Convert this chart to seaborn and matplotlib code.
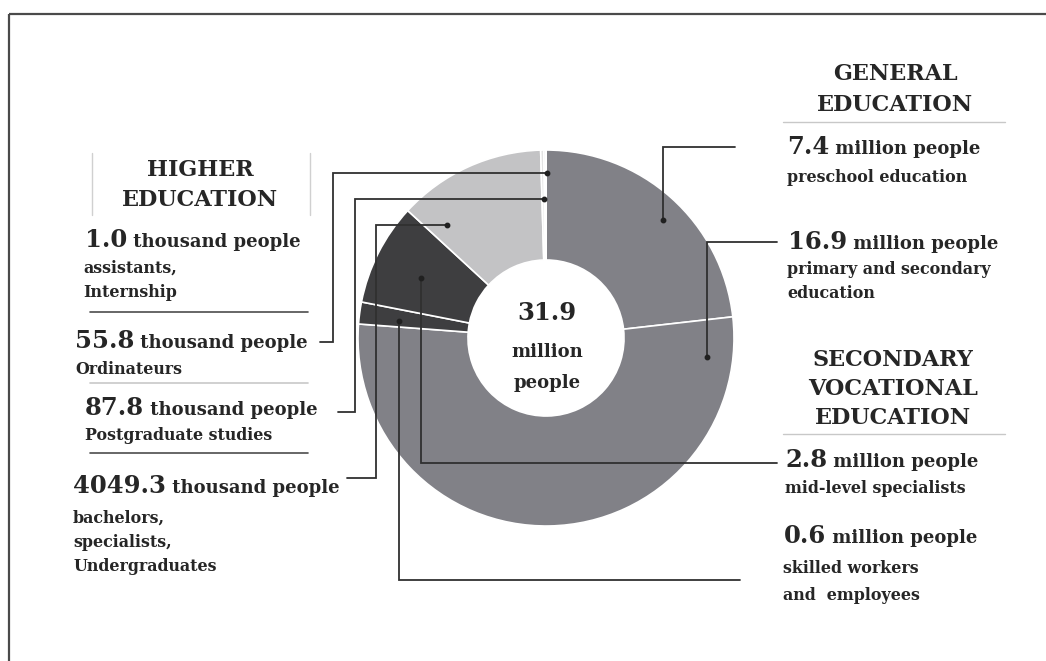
import matplotlib
matplotlib.use("Agg")
import matplotlib.pyplot as plt
import seaborn as sns

# --- data -------------------------------------------------------------
categories = ["preschool education", "primary and secondary\neducation",
              "skilled workers\nand  employees", "mid-level specialists",
              "bachelors,\nspecialists,\nUndergraduates", "Postgraduate studies",
              "Ordinateurs", "assistants,\nInternship"]
people_millions = [7.4, 16.9, 0.6, 2.8, 4.0493, 0.0878, 0.0558, 0.0010]
value_labels = ["7.4", "16.9", "0.6", "2.8", "4049.3", "87.8", "55.8", "1.0"]
unit_labels = ["million people"] * 4 + ["thousand people"] * 4
group_titles = ["GENERAL\nEDUCATION", "SECONDARY\nVOCATIONAL\nEDUCATION", "HIGHER\nEDUCATION"]
total_value = "31.9"
total_unit = "million\npeople"

# --- style ------------------------------------------------------------
sns.set_theme(style="white")
plt.rcParams['font.family'] = ['DejaVu Serif', 'DejaVu Sans']
txt_color = "#262626"
mid, dark, light, vlight = "#818187", "#3e3e40", "#c3c3c5", "#e2e2e2"
slice_colors = sns.color_palette([mid, mid, dark, dark, light, vlight, vlight, vlight])

W, H = 1046, 661
fig = plt.figure(figsize=(W / 100, H / 100), dpi=100)
fig.patch.set_facecolor("white")

# donut: centre (546, 338) px, radius 188 px -> square axes of 470 px
cx, cy, R = 546, 338, 188
side = 2 * 1.25 * R
ax_pie = fig.add_axes([(cx - side / 2) / W, (H - cy - side / 2) / H, side / W, side / H])
ax_pie.pie(people_millions, colors=slice_colors, startangle=90, counterclock=False,
           wedgeprops=dict(width=0.585, edgecolor="white", linewidth=1.2))

# overlay in pixel coordinates
ax = fig.add_axes([0, 0, 1, 1])
ax.set_xlim(0, W)
ax.set_ylim(H, 0)
ax.axis("off")
ax.patch.set_alpha(0)


def stacked(x, y, text, step, **kw):
    # one text per line, first baseline at y
    for k, line in enumerate(text.split("\n")):
        ax.text(x, y + k * step, line, va="baseline", color=txt_color,
                fontweight="bold", **kw)


# frame (only top and left visible)
ax.plot([9, W], [14, 14], color="#4a4a4a", lw=1.6, solid_capstyle="butt")
ax.plot([9, 9], [14, H], color="#4a4a4a", lw=1.6, solid_capstyle="butt")

# leader lines
leaders = [
    [(663, 220), (663, 147), (735, 147)],
    [(707, 357), (707, 242), (777, 242)],
    [(399, 321), (399, 580), (740, 580)],
    [(421, 278), (421, 463), (777, 463)],
    [(447, 225), (376, 225), (376, 478), (347, 478)],
    [(544, 199), (355, 199), (355, 412), (338, 412)],
    [(547, 173), (333, 173), (333, 342), (320, 342)],
]
for path in leaders:
    xs, ys = zip(*path)
    ax.plot(xs, ys, color="#303030", lw=1.3, solid_joinstyle="miter")
    ax.plot(xs[0], ys[0], "o", color="#202020", ms=3.2)

# separator lines
for y, c in [(312, "#4d4d4d"), (383, "#c8c8c8"), (453, "#4d4d4d")]:
    ax.plot([90, 308], [y, y], color=c, lw=1.2)
for x in [92, 310]:
    ax.plot([x, x], [153, 215], color="#d0d0d0", lw=1)
for y in [122, 434]:
    ax.plot([783, 1005], [y, y], color="#c8c8c8", lw=1)

# group titles (first baseline, line step)
title_pos = [(895, 80, 31), (893, 366, 29), (200, 176, 30)]
for t, (x, y, step) in zip(group_titles, title_pos):
    stacked(x, y, t, step, ha="center", fontsize=16)

# value lines and descriptions
value_pos = [(787, 154), (788, 249), (784, 543), (785, 467),
             (73, 493), (85, 415), (75, 348), (85, 247)]
desc_pos = [(787, 182, 24), (787, 274, 24), (783, 573, 27), (785, 493, 24),
            (73, 523, 24), (85, 440, 24), (75, 374, 24), (83, 273, 24)]
for i in range(len(categories)):
    x, y = value_pos[i]
    t = ax.text(x, y, value_labels[i], ha="left", va="baseline", fontsize=17.5,
                fontweight="bold", color=txt_color)
    ax.annotate(" " + unit_labels[i], xy=(1, y), xycoords=(t, "data"),
                ha="left", va="baseline", fontsize=13, fontweight="bold", color=txt_color)
    dx, dy, step = desc_pos[i]
    stacked(dx, dy, categories[i], step, ha="left", fontsize=11.4)

# centre text
ax.text(547, 320, total_value, ha="center", va="baseline", fontsize=17.5,
        fontweight="bold", color=txt_color)
stacked(547, 357, total_unit, 31, ha="center", fontsize=13)

fig.savefig("out.png", dpi=100, facecolor="white")
